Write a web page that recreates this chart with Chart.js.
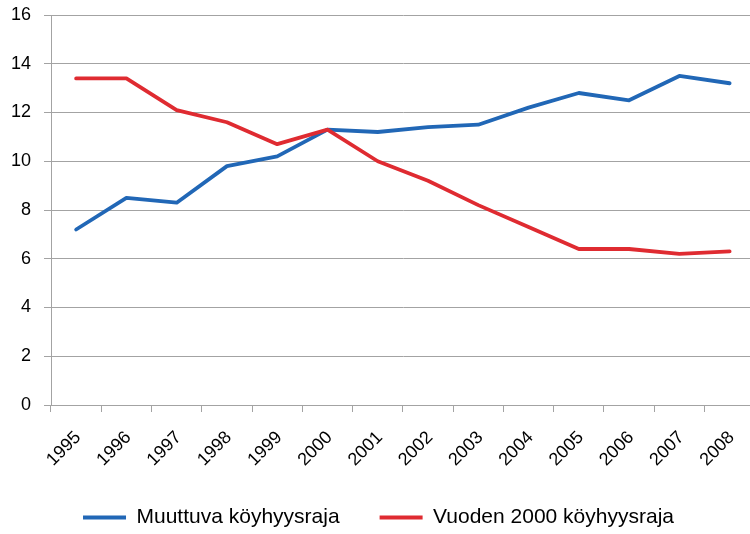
<!DOCTYPE html>
<html>
<head>
<meta charset="utf-8">
<script src="https://cdn.jsdelivr.net/npm/chart.js@4/dist/chart.umd.min.js"></script>
<style>
html,body{margin:0;padding:0;background:#fff;overflow:hidden;}
#wrap{position:relative;width:760px;height:534px;}
</style>
</head>
<body>
<div id="wrap"><canvas id="c" width="760" height="534"></canvas></div>
<script>
const years = ['1995','1996','1997','1998','1999','2000','2001','2002','2003','2004','2005','2006','2007','2008'];
const muuttuva = [7.2, 8.5, 8.3, 9.8, 10.2, 11.3, 11.2, 11.4, 11.5, 12.2, 12.8, 12.5, 13.5, 13.2];
const vuoden2000 = [13.4, 13.4, 12.1, 11.6, 10.7, 11.3, 10.0, 9.2, 8.2, 7.3, 6.4, 6.4, 6.2, 6.3];
const seriesNames = ['Muuttuva köyhyysraja', 'Vuoden 2000 köyhyysraja'];
const yTicks = [0, 2, 4, 6, 8, 10, 12, 14, 16];

const BLUE = '#2167b6';
const RED = '#df2b31';
const GRID = '#a3a3a3';
const FONT = 'Liberation Sans, Arial, sans-serif';

new Chart(document.getElementById('c'), {
  type: 'line',
  data: {
    labels: years,
    datasets: [
      { label: seriesNames[0], data: muuttuva, borderColor: BLUE, backgroundColor: BLUE, borderWidth: 3.8, pointRadius: 0, tension: 0, order: 1, borderCapStyle: 'round', borderJoinStyle: 'round' },
      { label: seriesNames[1], data: vuoden2000, borderColor: RED, backgroundColor: RED, borderWidth: 3.8, pointRadius: 0, tension: 0, order: 0, borderCapStyle: 'round', borderJoinStyle: 'round' }
    ]
  },
  options: {
    responsive: false,
    animation: false,
    layout: { padding: { top: 0, right: 3, left: 0, bottom: -4 } },
    plugins: {
      tooltip: { enabled: false },
      legend: {
        position: 'bottom',
        labels: {
          usePointStyle: true,
          pointStyle: 'line',
          pointStyleWidth: 43,
          padding: 40,
          color: '#000',
          font: { family: FONT, size: 21 },
          sort: (a, b) => a.datasetIndex - b.datasetIndex
        }
      }
    },
    scales: {
      x: {
        offset: true,
        grid: { display: true, drawOnChartArea: false, drawTicks: true, tickLength: 7, color: GRID, offset: true },
        border: { display: true, color: GRID },
        ticks: { color: '#000', font: { family: FONT, size: 18 }, maxRotation: 45, minRotation: 45, padding: 15, labelOffset: 2, autoSkip: false },
        afterFit: (s) => { s.height = 62; }
      },
      y: {
        min: 0, max: 16,
        afterBuildTicks: (s) => { s.ticks = yTicks.map(v => ({ value: v })); },
        grid: { color: GRID, tickLength: 7, drawTicks: true },
        border: { display: true, color: GRID },
        ticks: { color: '#000', font: { family: FONT, size: 18 }, padding: 13 },
        afterFit: (s) => { s.width = 51; s.paddingTop = 15; }
      }
    }
  }
});
</script>
</body>
</html>
